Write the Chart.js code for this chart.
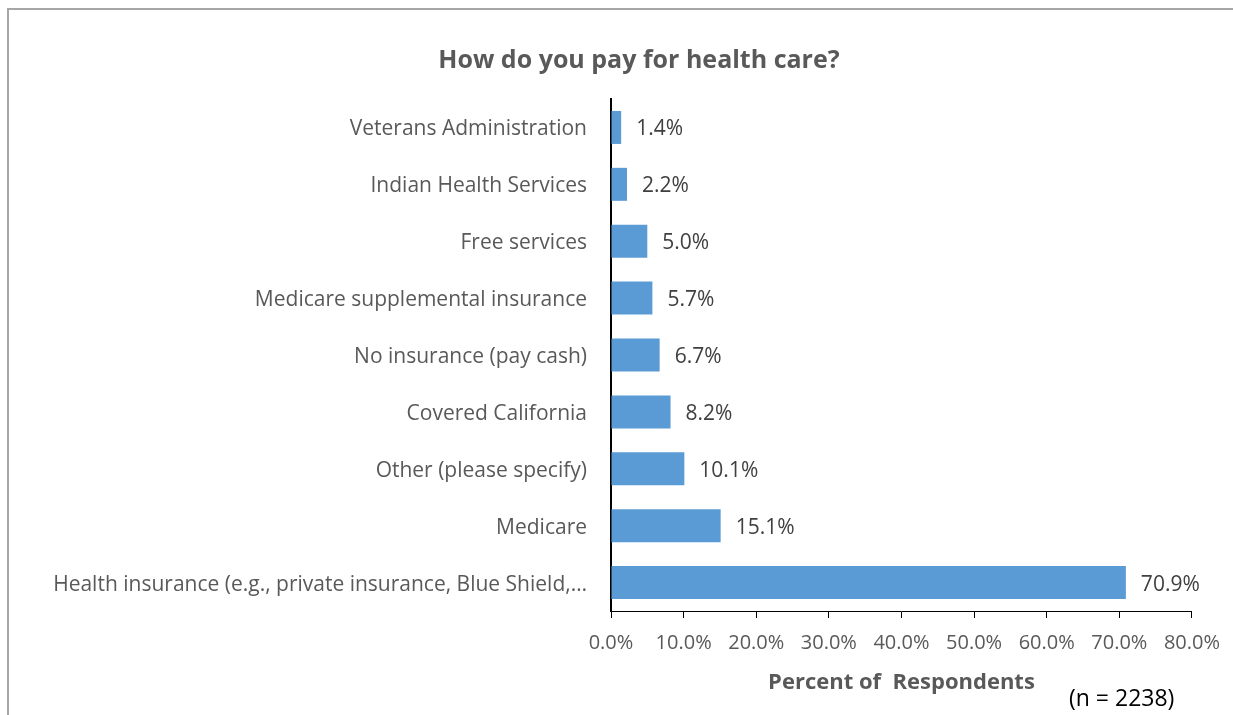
<!DOCTYPE html>
<html>
<head>
<meta charset="utf-8">
<script src="https://cdn.jsdelivr.net/npm/chart.js@4.4.1/dist/chart.umd.min.js"></script>
<style>
  html, body { margin: 0; padding: 0; background: #fff; overflow: hidden; }
  canvas { display: block; }
</style>
</head>
<body>
<canvas id="c" width="1233" height="715"></canvas>
<script>
const categories = [
  'Veterans Administration',
  'Indian Health Services',
  'Free services',
  'Medicare supplemental insurance',
  'No insurance (pay cash)',
  'Covered California',
  'Other (please specify)',
  'Medicare',
  'Health insurance (e.g., private insurance, Blue Shield,\u2026'
];
const percentValues = [1.4, 2.2, 5.0, 5.7, 6.7, 8.2, 10.1, 15.1, 70.9];
const axisMax = 80;
const axisStep = 10;
const chartTitle = 'How do you pay for health care?';
const axisTitle = 'Percent of  Respondents';
const sampleNote = '(n = 2238)';

const FONT = '"Open Sans", Lato, sans-serif';
const GREY = '#595959';

// Outer frame, chart heading, value labels and the sample-size note.
const decorations = {
  id: 'decorations',
  beforeDraw(chart) {
    const ctx = chart.ctx;
    ctx.save();
    ctx.fillStyle = '#a6a6a6';
    ctx.fillRect(7, 8, 2, chart.height - 8);
    ctx.fillRect(7, 8, chart.width - 7, 2);
    ctx.restore();
  },
  afterDatasetsDraw(chart) {
    const ctx = chart.ctx;
    const meta = chart.getDatasetMeta(0);
    ctx.save();
    ctx.font = '21px ' + FONT;
    ctx.fillStyle = '#404040';
    ctx.textAlign = 'left';
    ctx.textBaseline = 'middle';
    meta.data.forEach((bar, i) => {
      ctx.fillText(percentValues[i].toFixed(1) + '%', bar.x + 15, bar.y + 2);
    });
    ctx.restore();
  },
  afterDraw(chart) {
    const ctx = chart.ctx;
    ctx.save();
    ctx.textBaseline = 'middle';
    ctx.textAlign = 'center';
    ctx.fillStyle = GREY;
    ctx.font = 'bold 25px ' + FONT;
    ctx.fillText(chartTitle, 639, 61);
    ctx.textAlign = 'left';
    ctx.fillStyle = '#000';
    ctx.font = '23px ' + FONT;
    ctx.fillText(sampleNote, 1069, 699);
    ctx.restore();
  }
};

new Chart(document.getElementById('c'), {
  type: 'bar',
  data: {
    labels: categories,
    datasets: [{
      data: percentValues,
      backgroundColor: '#5b9bd5',
      borderWidth: 0,
      categoryPercentage: 1,
      barPercentage: 0.58
    }]
  },
  options: {
    indexAxis: 'y',
    responsive: false,
    animation: false,
    devicePixelRatio: 1,
    layout: { padding: { left: 0, right: 39, top: 99, bottom: 0 } },
    plugins: {
      legend: { display: false },
      tooltip: { enabled: false },
      title: { display: false }
    },
    scales: {
      x: {
        min: 0,
        max: axisMax,
        ticks: {
          stepSize: axisStep,
          color: GREY,
          font: { family: FONT, size: 20 },
          padding: 13,
          maxRotation: 0,
          callback: v => v.toFixed(1) + '%'
        },
        grid: { drawOnChartArea: false, drawTicks: true, tickLength: 7, color: '#000', lineWidth: 1 },
        border: { display: true, color: '#000', width: 1 },
        title: {
          display: true,
          text: axisTitle,
          color: GREY,
          font: { family: FONT, size: 22, weight: 'bold', lineHeight: 1.2 },
          padding: { top: 0, bottom: 19 }
        },
        afterFit(scale) { scale.height = 104; }
      },
      y: {
        ticks: {
          color: GREY,
          font: { family: FONT, size: 21 },
          padding: 24,
          labelOffset: 2,
          autoSkip: false
        },
        grid: { drawOnChartArea: false, drawTicks: false },
        border: { display: true, color: '#000', width: 2 },
        afterFit(scale) { scale.width = 611; }
      }
    }
  },
  plugins: [decorations]
});
</script>
</body>
</html>
